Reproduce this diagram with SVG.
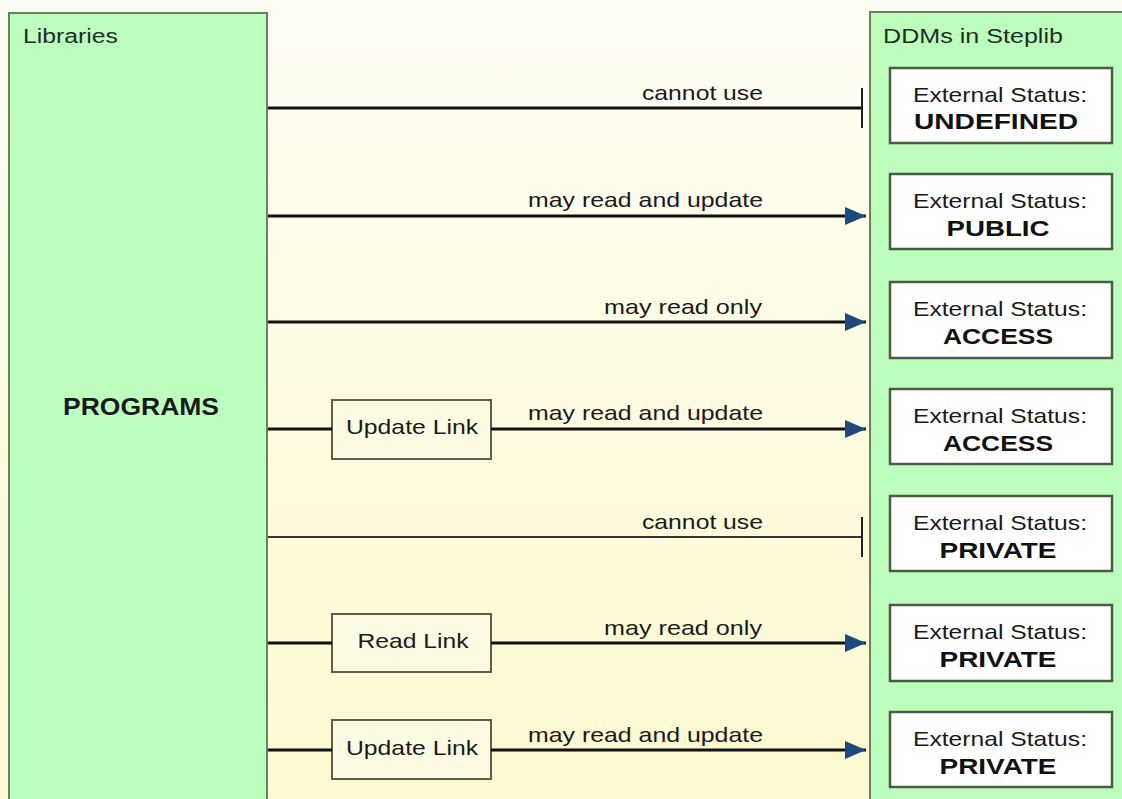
<svg xmlns="http://www.w3.org/2000/svg" width="1122" height="799" viewBox="0 0 1122 799">
<defs>
<linearGradient id="bg" x1="0" y1="0" x2="0" y2="1">
<stop offset="0" stop-color="#fffef6"/>
<stop offset="1" stop-color="#fdf9cf"/>
</linearGradient>
<marker id="arr" markerUnits="userSpaceOnUse" markerWidth="24" markerHeight="20" viewBox="0 0 22 20" refX="21" refY="10" orient="auto">
<path d="M0,1 L21,10 L0,19 Z" fill="#1c4a7c"/>
</marker>
<marker id="bar" markerUnits="userSpaceOnUse" markerWidth="6" markerHeight="42" viewBox="0 0 6 42" refX="3" refY="21" orient="auto">
<line x1="3" y1="1" x2="3" y2="41" stroke="#222" stroke-width="2"/>
</marker>
</defs>
<style>
text{font-family:"Liberation Sans",Arial,sans-serif;fill:#1a1a1a}
.lbl{font-size:21px}
.hdr{font-size:20px;fill:#1f2f1f}
.st{font-size:21px;text-anchor:middle}
.sb{font-size:22px;font-weight:bold;text-anchor:middle;fill:#111}
.lk{font-size:21px;text-anchor:middle}
.grp{fill:#bdfdbd;stroke:#6e7e60;stroke-width:2}
.ddm{fill:#ffffff;stroke:#4c5c44;stroke-width:2.5}
.lnk{fill:#fdfbe4;stroke:#5e5e46;stroke-width:2}
.c{stroke:#111;stroke-width:3;fill:none}
.thin{stroke:#333;stroke-width:2;fill:none}
</style>
<rect width="1122" height="799" fill="url(#bg)"/>

<g id="libraries">
<rect class="grp" x="9" y="13" width="258" height="800"/>
<text class="hdr" x="23" y="43" textLength="95" lengthAdjust="spacingAndGlyphs">Libraries</text>
<text x="141" y="415" font-size="24" font-weight="bold" text-anchor="middle" textLength="156" lengthAdjust="spacingAndGlyphs" fill="#111">PROGRAMS</text>
</g>

<g id="steplib">
<rect class="grp" x="870" y="12" width="260" height="800"/>
<text class="hdr" x="883" y="43" textLength="180" lengthAdjust="spacingAndGlyphs">DDMs in Steplib</text>
</g>

<g id="ddm1"><rect class="ddm" x="890" y="68" width="222" height="75"/>
<text class="st" x="1000" y="102" textLength="174" lengthAdjust="spacingAndGlyphs">External Status:</text>
<text class="sb" x="996" y="129" textLength="164" lengthAdjust="spacingAndGlyphs">UNDEFINED</text></g>
<g id="ddm2"><rect class="ddm" x="890" y="174" width="222" height="75"/>
<text class="st" x="1000" y="208" textLength="174" lengthAdjust="spacingAndGlyphs">External Status:</text>
<text class="sb" x="998" y="236" textLength="103" lengthAdjust="spacingAndGlyphs">PUBLIC</text></g>
<g id="ddm3"><rect class="ddm" x="890" y="282" width="222" height="76"/>
<text class="st" x="1000" y="316" textLength="174" lengthAdjust="spacingAndGlyphs">External Status:</text>
<text class="sb" x="998" y="344" textLength="110" lengthAdjust="spacingAndGlyphs">ACCESS</text></g>
<g id="ddm4"><rect class="ddm" x="890" y="389" width="222" height="75"/>
<text class="st" x="1000" y="423" textLength="174" lengthAdjust="spacingAndGlyphs">External Status:</text>
<text class="sb" x="998" y="451" textLength="110" lengthAdjust="spacingAndGlyphs">ACCESS</text></g>
<g id="ddm5"><rect class="ddm" x="890" y="496" width="222" height="75"/>
<text class="st" x="1000" y="530" textLength="174" lengthAdjust="spacingAndGlyphs">External Status:</text>
<text class="sb" x="998" y="558" textLength="117" lengthAdjust="spacingAndGlyphs">PRIVATE</text></g>
<g id="ddm6"><rect class="ddm" x="890" y="605" width="222" height="76"/>
<text class="st" x="1000" y="639" textLength="174" lengthAdjust="spacingAndGlyphs">External Status:</text>
<text class="sb" x="998" y="667" textLength="117" lengthAdjust="spacingAndGlyphs">PRIVATE</text></g>
<g id="ddm7"><rect class="ddm" x="890" y="712" width="222" height="75"/>
<text class="st" x="1000" y="746" textLength="174" lengthAdjust="spacingAndGlyphs">External Status:</text>
<text class="sb" x="998" y="774" textLength="117" lengthAdjust="spacingAndGlyphs">PRIVATE</text></g>

<g id="link1"><rect class="lnk" x="332" y="400" width="159" height="59"/>
<text class="lk" x="412" y="434" textLength="132" lengthAdjust="spacingAndGlyphs">Update Link</text></g>
<g id="link2"><rect class="lnk" x="332" y="614" width="159" height="58"/>
<text class="lk" x="413" y="648" textLength="111" lengthAdjust="spacingAndGlyphs">Read Link</text></g>
<g id="link3"><rect class="lnk" x="332" y="720" width="159" height="59"/>
<text class="lk" x="412" y="755" textLength="132" lengthAdjust="spacingAndGlyphs">Update Link</text></g>

<g id="connectors">
<line class="c" x1="268" y1="108" x2="862" y2="108" marker-end="url(#bar)"/>
<line class="c" x1="268" y1="216" x2="866" y2="216" marker-end="url(#arr)"/>
<line class="c" x1="268" y1="322" x2="866" y2="322" marker-end="url(#arr)"/>
<line class="c" x1="268" y1="429" x2="332" y2="429"/>
<line class="c" x1="491" y1="429" x2="866" y2="429" marker-end="url(#arr)"/>
<line class="thin" x1="268" y1="537" x2="862" y2="537" marker-end="url(#bar)"/>
<line class="c" x1="268" y1="643" x2="332" y2="643"/>
<line class="c" x1="491" y1="643" x2="866" y2="643" marker-end="url(#arr)"/>
<line class="c" x1="268" y1="750" x2="332" y2="750"/>
<line class="c" x1="491" y1="750" x2="866" y2="750" marker-end="url(#arr)"/>
<text class="lbl" x="642" y="100" textLength="121" lengthAdjust="spacingAndGlyphs">cannot use</text>
<text class="lbl" x="528" y="207" textLength="235" lengthAdjust="spacingAndGlyphs">may read and update</text>
<text class="lbl" x="604" y="314" textLength="158" lengthAdjust="spacingAndGlyphs">may read only</text>
<text class="lbl" x="528" y="420" textLength="235" lengthAdjust="spacingAndGlyphs">may read and update</text>
<text class="lbl" x="642" y="529" textLength="121" lengthAdjust="spacingAndGlyphs">cannot use</text>
<text class="lbl" x="604" y="635" textLength="158" lengthAdjust="spacingAndGlyphs">may read only</text>
<text class="lbl" x="528" y="742" textLength="235" lengthAdjust="spacingAndGlyphs">may read and update</text>
</g>
</svg>
